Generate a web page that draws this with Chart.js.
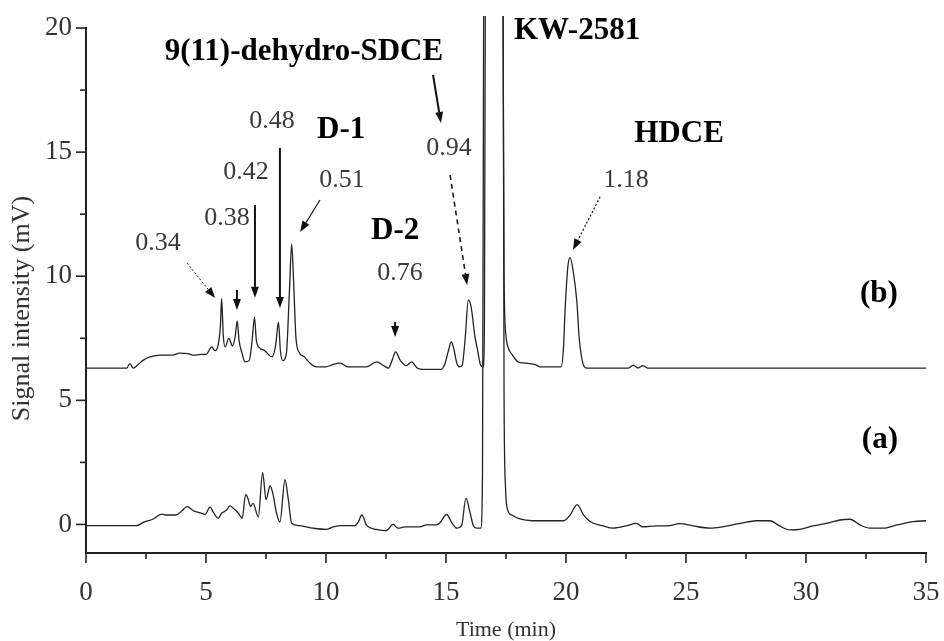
<!DOCTYPE html>
<html>
<head>
<meta charset="utf-8">
<script src="https://cdn.jsdelivr.net/npm/chart.js@4.4.1/dist/chart.umd.min.js"></script>
<style>
  html, body { margin: 0; padding: 0; background: #fff; }
  #wrap { width: 944px; height: 641px; }
</style>
</head>
<body>
<div id="wrap"><canvas id="chart"></canvas></div>
<script>
// trace (b)
const timeB = [0, 1.7, 1.83, 1.97, 2.15, 2.39, 2.67, 3.1, 3.6, 3.9, 4.25, 4.45, 4.8, 5.0, 5.24, 5.38, 5.5, 5.6, 5.65, 5.72, 5.8, 5.95, 6.1, 6.22, 6.3, 6.38, 6.5, 6.62, 6.8, 6.92, 7.02, 7.1, 7.25, 7.45, 7.6, 7.75, 7.9, 8.02, 8.1, 8.2, 8.35, 8.48, 8.57, 8.65, 8.75, 8.9, 9.1, 9.33, 9.6, 10.0, 10.3, 10.6, 10.9, 11.7, 12.1, 12.4, 12.6, 12.75, 12.9, 13.1, 13.35, 13.57, 13.8, 14.0, 14.8, 14.95, 15.1, 15.22, 15.32, 15.45, 15.55, 15.67, 15.8, 15.93, 16.05, 16.2, 16.3, 16.45, 16.55, 16.6, 16.66, 17.0, 17.36, 17.42, 17.5, 17.6, 17.75, 18.0, 18.3, 18.78, 18.9, 19.8, 19.9, 19.96, 20.08, 20.17, 20.3, 20.45, 20.55, 20.7, 20.85, 22.6, 22.8, 23.0, 23.2, 23.4, 35];
const signalB = [6.3, 6.3, 6.48, 6.3, 6.42, 6.62, 6.75, 6.82, 6.82, 6.9, 6.88, 6.82, 6.85, 6.85, 7.15, 7.0, 7.2, 8.0, 9.1, 7.6, 7.15, 7.5, 7.2, 7.6, 8.2, 7.4, 6.9, 6.55, 6.6, 7.4, 8.35, 7.4, 7.1, 7.0, 6.85, 6.75, 7.2, 8.15, 7.0, 6.6, 6.9, 9.5, 11.3, 9.8, 7.5, 6.9, 6.75, 6.5, 6.35, 6.35, 6.45, 6.5, 6.35, 6.35, 6.55, 6.4, 6.3, 6.6, 6.95, 6.6, 6.4, 6.55, 6.3, 6.25, 6.25, 6.45, 7.0, 7.35, 7.1, 6.5, 6.35, 6.4, 7.5, 9.05, 8.75, 7.6, 7.1, 6.4, 6.35, 8.0, 30, 60, 25, 10, 7.6, 7.1, 6.85, 6.55, 6.5, 6.42, 6.35, 6.35, 7.2, 8.6, 10.4, 10.75, 10.2, 9.0, 7.5, 6.5, 6.3, 6.3, 6.42, 6.3, 6.4, 6.3, 6.3];

// trace (a)
const timeA = [0, 1.4, 2.1, 2.39, 2.8, 3.15, 3.35, 3.75, 4.0, 4.2, 4.48, 4.82, 4.96, 5.17, 5.3, 5.51, 5.65, 5.86, 6.0, 6.14, 6.35, 6.51, 6.65, 6.75, 6.85, 6.96, 7.18, 7.36, 7.5, 7.67, 7.78, 7.94, 8.08, 8.29, 8.43, 8.57, 8.9, 9.46, 10.0, 10.3, 10.7, 11.2, 11.35, 11.49, 11.7, 12.1, 12.5, 12.8, 13.0, 13.3, 13.9, 14.2, 14.6, 14.75, 15.03, 15.24, 15.45, 15.65, 15.83, 16.0, 16.14, 16.28, 16.45, 16.52, 16.58, 17.0, 17.36, 17.42, 17.48, 17.53, 17.74, 18.08, 18.6, 19.9, 20.15, 20.47, 20.72, 21.0, 21.55, 21.97, 22.5, 22.94, 23.2, 23.75, 24.2, 24.75, 25.3, 26.0, 26.5, 27.25, 27.94, 28.5, 28.9, 29.33, 29.75, 30.3, 30.85, 31.42, 31.83, 32.25, 32.67, 33.2, 33.8, 34.47, 35];
const signalA = [-0.05, -0.05, -0.05, 0.08, 0.22, 0.42, 0.38, 0.38, 0.55, 0.72, 0.55, 0.45, 0.4, 0.7, 0.5, 0.25, 0.45, 0.58, 0.75, 0.65, 0.45, 0.25, 1.2, 1.05, 0.72, 0.85, 0.3, 2.1, 1.0, 1.55, 1.27, 0.45, 0.1, 1.8, 1.0, 0.05, -0.05, -0.15, -0.2, -0.1, -0.05, -0.05, 0.1, 0.38, -0.05, -0.2, -0.25, 0.0, -0.15, -0.1, -0.1, -0.02, -0.02, 0.07, 0.4, 0.07, -0.15, -0.05, 1.06, 0.48, -0.05, -0.15, -0.15, 2, 25, 60, 30, 5, 1.5, 0.73, 0.38, 0.22, 0.15, 0.15, 0.35, 0.8, 0.4, 0.12, -0.06, -0.15, -0.06, 0.04, -0.1, -0.06, -0.06, 0.03, -0.06, -0.15, -0.1, 0.04, 0.15, 0.15, -0.06, -0.22, -0.2, -0.06, 0.04, 0.18, 0.21, -0.02, -0.15, -0.15, -0.02, 0.11, 0.15];

const xTicks = [0, 2.5, 5, 7.5, 10, 12.5, 15, 17.5, 20, 22.5, 25, 27.5, 30, 32.5, 35];
const yTicks = [0, 2.5, 5, 7.5, 10, 12.5, 15, 17.5, 20];

// peak labels, anchored in data units (time, signal)
const notes = [
  { text: '9(11)-dehydro-SDCE', t: 9.08, v: 19.04, bold: true },
  { text: 'KW-2581', t: 20.46, v: 19.88, bold: true },
  { text: 'HDCE', t: 24.71, v: 15.73, bold: true },
  { text: '1.18', t: 22.5, v: 13.88 },
  { text: '0.94', t: 15.13, v: 15.17 },
  { text: 'D-2', t: 12.88, v: 11.83, bold: true },
  { text: '0.76', t: 13.08, v: 10.13 },
  { text: 'D-1', t: 10.63, v: 15.89, bold: true },
  { text: '0.51', t: 10.67, v: 13.88 },
  { text: '0.48', t: 7.75, v: 16.25 },
  { text: '0.42', t: 6.67, v: 14.2 },
  { text: '0.38', t: 5.88, v: 12.35 },
  { text: '0.34', t: 3.0, v: 11.34 },
  { text: '(b)', t: 33.04, v: 9.29, bold: true },
  { text: '(a)', t: 33.08, v: 3.4, bold: true }
];

// arrows from (t0,v0) to tip (t1,v1)
const arrows = [
  { t0: 4.21, v0: 10.53, t1: 5.38, v1: 9.12, dash: [2, 2], w: 1 },
  { t0: 6.29, v0: 9.45, t1: 6.29, v1: 8.64, w: 2 },
  { t0: 7.04, v0: 12.87, t1: 7.04, v1: 9.13, w: 2 },
  { t0: 8.08, v0: 15.17, t1: 8.08, v1: 8.72, w: 2 },
  { t0: 9.75, v0: 13.07, t1: 8.92, v1: 11.78, w: 1.2 },
  { t0: 14.46, v0: 18.11, t1: 14.79, v1: 16.17, w: 2 },
  { t0: 15.17, v0: 14.08, t1: 15.88, v1: 9.65, dash: [5, 4], w: 1.5 },
  { t0: 12.88, v0: 8.16, t1: 12.88, v1: 7.55, w: 2 },
  { t0: 21.42, v0: 13.2, t1: 20.29, v1: 11.06, dash: [2, 2], w: 1.2 }
];

const decor = {
  id: 'decor',
  afterDraw(chart) {
    const { ctx, chartArea } = chart;
    const x = chart.scales.x, y = chart.scales.y;
    ctx.save();
    ctx.strokeStyle = '#222';
    ctx.lineWidth = 1.6;
    xTicks.forEach(v => {
      const px = x.getPixelForValue(v);
      const len = v % 5 === 0 ? 10 : 6;
      ctx.beginPath();
      ctx.moveTo(px, chartArea.bottom);
      ctx.lineTo(px, chartArea.bottom + len);
      ctx.stroke();
    });
    yTicks.forEach(v => {
      const py = y.getPixelForValue(v);
      const len = v % 5 === 0 ? 10 : 6;
      ctx.beginPath();
      ctx.moveTo(chartArea.left, py);
      ctx.lineTo(chartArea.left - len, py);
      ctx.stroke();
    });

    // y axis title, drawn by hand so it can sit a little below centre
    ctx.save();
    ctx.translate(22, y.getPixelForValue(8.7));
    ctx.rotate(-Math.PI / 2);
    ctx.font = '26px "Liberation Serif"';
    ctx.fillStyle = '#333';
    ctx.textAlign = 'center';
    ctx.textBaseline = 'middle';
    ctx.fillText('Signal intensity (mV)', 0, 0);
    ctx.restore();

    arrows.forEach(a => {
      const x0 = x.getPixelForValue(a.t0), y0 = y.getPixelForValue(a.v0);
      const x1 = x.getPixelForValue(a.t1), y1 = y.getPixelForValue(a.v1);
      const ang = Math.atan2(y1 - y0, x1 - x0);
      const hl = 11, hw = 4;
      const bx = x1 - hl * Math.cos(ang), by = y1 - hl * Math.sin(ang);
      ctx.strokeStyle = '#111';
      ctx.fillStyle = '#111';
      ctx.lineWidth = a.w;
      ctx.setLineDash(a.dash || []);
      ctx.beginPath();
      ctx.moveTo(x0, y0);
      ctx.lineTo(bx, by);
      ctx.stroke();
      ctx.setLineDash([]);
      ctx.beginPath();
      ctx.moveTo(x1, y1);
      ctx.lineTo(bx + hw * Math.sin(ang), by - hw * Math.cos(ang));
      ctx.lineTo(bx - hw * Math.sin(ang), by + hw * Math.cos(ang));
      ctx.closePath();
      ctx.fill();
    });

    ctx.textAlign = 'center';
    ctx.textBaseline = 'middle';
    notes.forEach(n => {
      ctx.font = n.bold ? 'bold 31px "Liberation Serif"' : '26px "Liberation Serif"';
      ctx.fillStyle = n.bold ? '#000' : '#3a3a3a';
      ctx.fillText(n.text, x.getPixelForValue(n.t), y.getPixelForValue(n.v));
    });
    ctx.restore();
  }
};

const toPoints = (ts, vs) => ts.map((t, i) => ({ x: t, y: vs[i] }));

new Chart(document.getElementById('chart'), {
  type: 'line',
  data: {
    datasets: [
      {
        label: '(b)',
        data: toPoints(timeB, signalB),
        borderColor: '#222',
        borderWidth: 1.3,
        pointRadius: 0,
        cubicInterpolationMode: 'monotone',
        clip: { left: 0, top: 12, right: 0, bottom: 0 }
      },
      {
        label: '(a)',
        data: toPoints(timeA, signalA),
        borderColor: '#222',
        borderWidth: 1.3,
        pointRadius: 0,
        cubicInterpolationMode: 'monotone',
        clip: { left: 0, top: 12, right: 0, bottom: 0 }
      }
    ]
  },
  options: {
    responsive: true,
    maintainAspectRatio: false,
    animation: false,
    layout: { padding: { top: 28, right: 18, left: 0, bottom: 0 } },
    plugins: { legend: { display: false }, tooltip: { enabled: false } },
    scales: {
      x: {
        type: 'linear',
        min: 0,
        max: 35,
        afterBuildTicks: s => { s.ticks = xTicks.map(v => ({ value: v })); },
        afterFit: s => { s.height = 88; s.paddingLeft = 0; s.paddingRight = 0; },
        grid: { display: true, drawOnChartArea: false, drawTicks: true, tickLength: 10, tickColor: 'rgba(0,0,0,0)' },
        border: { display: true, color: '#222', width: 2 },
        ticks: {
          padding: 14,
          maxRotation: 0,
          autoSkip: false,
          color: '#333',
          font: { family: 'Liberation Serif', size: 27 },
          callback: v => (v % 5 === 0 ? String(v) : '')
        },
        title: {
          display: true,
          text: 'Time (min)',
          color: '#333',
          font: { family: 'Liberation Serif', size: 22, lineHeight: 1 },
          padding: { top: 0, bottom: 0 }
        }
      },
      y: {
        type: 'linear',
        min: -1.15,
        max: 20,
        afterBuildTicks: s => { s.ticks = yTicks.map(v => ({ value: v })); },
        afterFit: s => { s.width = 86; s.paddingTop = 0; s.paddingBottom = 0; },
        grid: { display: true, drawOnChartArea: false, drawTicks: true, tickLength: 10, tickColor: 'rgba(0,0,0,0)' },
        border: { display: true, color: '#222', width: 2 },
        ticks: {
          padding: 4,
          autoSkip: false,
          color: '#333',
          font: { family: 'Liberation Serif', size: 27 },
          callback: v => (v % 5 === 0 ? String(v) : '')
        },
        title: { display: false }
      }
    }
  },
  plugins: [decor]
});
</script>
</body>
</html>
